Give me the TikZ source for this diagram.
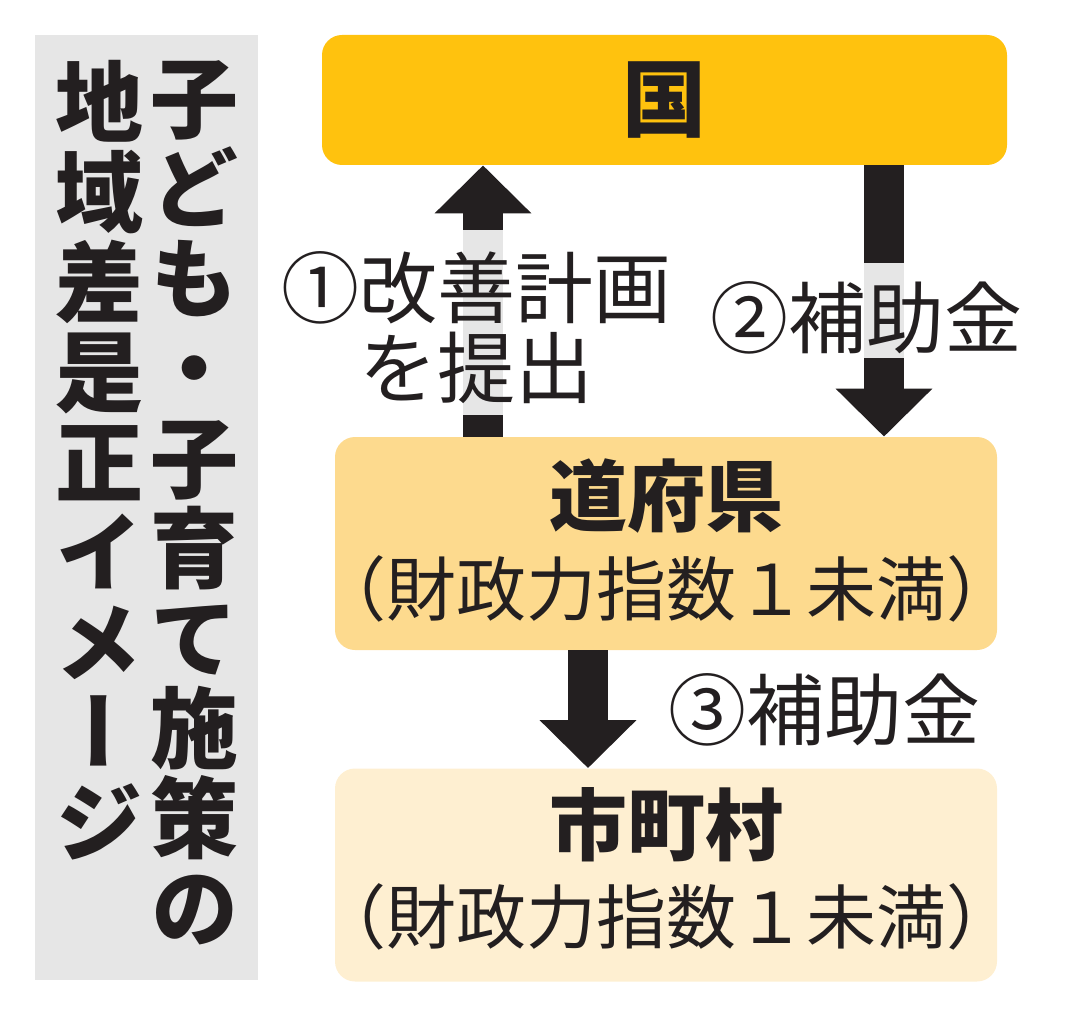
\documentclass[tikz,border=0pt]{standalone}
\usepackage{fontspec}
\setmainfont{Noto Sans CJK JP}
\newfontfamily\cjkv[RawFeature=+vert]{Noto Sans CJK JP}
\usepackage{tikz}
\usetikzlibrary{calc}
\usetikzlibrary{arrows.meta}
\definecolor{inkblack}{HTML}{231F20}
\definecolor{panelgray}{HTML}{E6E6E6}
\definecolor{kunifill}{HTML}{FFC20E}
\definecolor{dofufill}{HTML}{FDDA8E}
\definecolor{shifill}{HTML}{FEEFD1}
\tikzset{
  levelbox/.style={rounded corners=10pt,inner sep=0pt,minimum width=331pt,minimum height=106.5pt},
  bigname/.style={inner sep=0pt,text=inkblack,font=\fontsize{39}{39}\selectfont\bfseries},
  subname/.style={inner sep=0pt,text=inkblack,font=\fontsize{35}{35}\selectfont},
  steplabel/.style={inner sep=0pt,text=inkblack,align=left,font=\fontsize{39}{40}\selectfont},
  blockarrow/.style={draw=inkblack,line width=20pt,-{Triangle[length=24pt,width=47pt]}},
  gapstripe/.style={draw=panelgray,line width=20pt},
  titlecol/.style={inner sep=0pt,anchor=north,align=center,text=inkblack,font=\cjkv\fontsize{44}{45}\selectfont\bfseries}
}

\begin{document}
\begin{tikzpicture}[x=0.5pt,y=-0.5pt]
    \useasboundingbox (0,0) rectangle (1087,1016);
    \coordinate (UpX) at (483,0);
    \coordinate (DownX) at (884,0);
    \coordinate (LowX) at (588,0);
    % title panel
    \fill [panelgray] (35,35) rectangle (258,980);
    \node[titlecol] (title1) at (194,60) {子\\ど\\も\\・\\子\\育\\て\\施\\策\\の};
    \node[titlecol] (title2) at (99,60) {地\\域\\差\\是\\正\\イ\\メ\\ー\\ジ};
    % boxes
    \node[levelbox,fill=kunifill,minimum width=342.5pt,minimum height=65pt] (kuni) at (664.5,100) {};
    \node[levelbox,fill=dofufill] (dofu) at (666,543.5) {};
    \node[levelbox,fill=shifill] (shi) at (666,875) {};
    \node[bigname,font=\fontsize{42}{42}\selectfont\bfseries] (kunitext) at (kuni.center) {国};
    \node[bigname] (dofutext) at ($(dofu.center)+(0,-47)$) {道府県};
    \node[subname] (dofusub) at ($(dofu.center)+(0,45)$) {（財政力指数１未満）};
    \node[bigname] (shitext) at ($(shi.center)+(0,-50)$) {市町村};
    \node[subname] (shisub) at ($(shi.center)+(0,42)$) {（財政力指数１未満）};
    % arrows
    \draw [blockarrow] (dofu.north -| UpX)--(kuni.south -| UpX);
    \draw [blockarrow] (kuni.south -| DownX)--(dofu.north -| DownX);
    \draw [blockarrow] (dofu.south -| LowX)--(shi.north -| LowX);
    \draw [gapstripe] (UpX |- 0,230)--(UpX |- 0,415);
    \draw [gapstripe] (DownX |- 0,263)--(DownX |- 0,358);
    % labels
    \node[steplabel,anchor=west] (plan) at (281,328) {①改善計画\\\hspace*{1em}を提出};
    \node[steplabel,anchor=west] (grant2) at (710,318) {②補助金};
    \node[steplabel,anchor=west] (grant3) at (668,710) {③補助金};
\end{tikzpicture}
\end{document}
